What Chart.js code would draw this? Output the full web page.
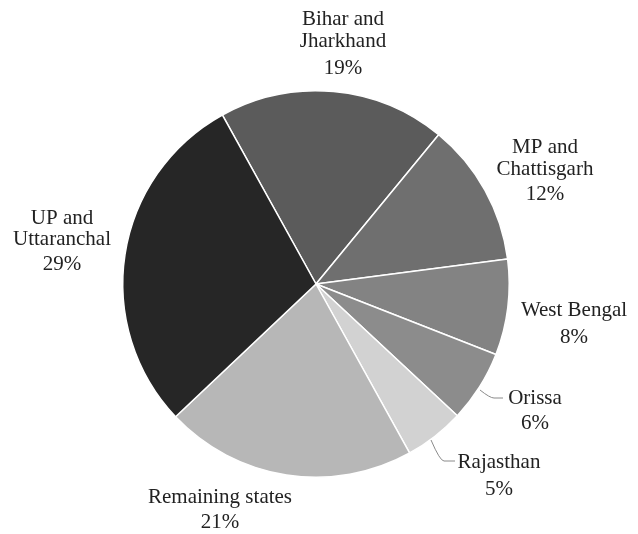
<!DOCTYPE html>
<html>
<head>
<meta charset="utf-8">
<script src="https://cdn.jsdelivr.net/npm/chart.js@4"></script>
<style>
  html, body { margin: 0; padding: 0; background: #fff; }
  #wrap { width: 638px; height: 534px; }
</style>
</head>
<body>
<div id="wrap"><canvas id="pie" width="638" height="534"></canvas></div>
<script>
// Share of population by state (%)
const states = [
    ['Bihar and', 'Jharkhand'],
    ['MP and', 'Chattisgarh'],
    ['West Bengal'],
    ['Orissa'],
    ['Rajasthan'],
    ['Remaining states'],
    ['UP and', 'Uttaranchal']
];
const shares = [19, 12, 8, 6, 5, 21, 29];
const greys = ['#5b5b5b', '#6f6f6f', '#838383', '#8c8c8c', '#d2d2d2', '#b7b7b7', '#262626'];

// where each label sits (center x, first line y, line gaps)
const labelSpots = [
    { x: 343, y: [19, 41, 68] },
    { x: 545, y: [147, 169, 194] },
    { x: 574, y: [310, 337] },
    { x: 535, y: [398, 423] },
    { x: 499, y: [462, 489] },
    { x: 220, y: [497, 522] },
    { x: 62,  y: [218, 239, 264] }
];
// small leader lines for the thin slices
const leaders = {
    3: [[480, 390], [490, 398], [503, 398]],
    4: [[431, 440], [440, 461], [455, 461]]
};

const labelPlugin = {
    id: 'outsideLabels',
    afterDraw(chart) {
        const ctx = chart.ctx;
        ctx.save();
        ctx.strokeStyle = '#8a8a8a';
        ctx.lineWidth = 1;
        Object.keys(leaders).forEach(k => {
            const pts = leaders[k];
            ctx.beginPath();
            ctx.moveTo(pts[0][0], pts[0][1]);
            ctx.quadraticCurveTo(pts[1][0], pts[1][1], pts[1][0] + 4, pts[2][1]);
            ctx.lineTo(pts[2][0], pts[2][1]);
            ctx.stroke();
        });

        ctx.fillStyle = '#222';
        ctx.font = '21px "Liberation Serif", "DejaVu Serif", serif';
        ctx.textAlign = 'center';
        ctx.textBaseline = 'middle';
        states.forEach((lines, i) => {
            const spot = labelSpots[i];
            const all = lines.concat([shares[i] + '%']);
            all.forEach((t, j) => {
                ctx.fillText(t, spot.x, spot.y[j]);
            });
        });
        ctx.restore();
    }
};

new Chart(document.getElementById('pie'), {
    type: 'pie',
    data: {
        labels: states.map(s => s.join(' ')),
        datasets: [{
            data: shares,
            backgroundColor: greys,
            borderColor: '#ffffff',
            borderWidth: 1.5
        }]
    },
    options: {
        responsive: false,
        animation: false,
        rotation: -29,
        layout: {
            padding: { left: 122, right: 128, top: 90, bottom: 56 }
        },
        plugins: {
            legend: { display: false },
            tooltip: { enabled: false }
        }
    },
    plugins: [labelPlugin]
});
</script>
</body>
</html>
